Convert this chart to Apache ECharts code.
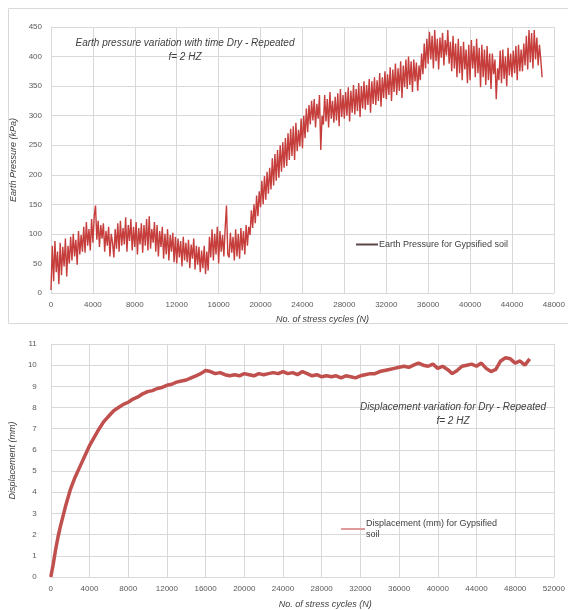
<!DOCTYPE html>
<html>
<head>
<meta charset="utf-8">
<script src="https://cdn.jsdelivr.net/npm/echarts@6/dist/echarts.min.js"></script>
<style>html,body{margin:0;padding:0;background:#fff}#c{width:568px;height:610px}</style>
</head>
<body>
<div id="c"></div>
<script>
// ---- Top chart: Earth pressure (kPa) vs number of stress cycles ----
const pressureCycles = [
  0,125,250,375,500,625,750,875, 1000,1125,1250,1375,1500,1625,1750,1875,
  2000,2125,2250,2375,2500,2625,2750,2875, 3000,3125,3250,3375,3500,3625,3750,3875,
  4000,4125,4250,4375,4500,4625,4750,4875, 5000,5125,5250,5375,5500,5625,5750,5875,
  6000,6125,6250,6375,6500,6625,6750,6875, 7000,7125,7250,7375,7500,7625,7750,7875,
  8000,8125,8250,8375,8500,8625,8750,8875, 9000,9125,9250,9375,9500,9625,9750,9875,
  10000,10125,10250,10375,10500,10625,10750,10875, 11000,11125,11250,11375,11500,11625,11750,11875,
  12000,12125,12250,12375,12500,12625,12750,12875, 13000,13125,13250,13375,13500,13625,13750,13875,
  14000,14125,14250,14375,14500,14625,14750,14875, 15000,15125,15250,15375,15500,15625,15750,15875,
  16000,16125,16250,16375,16500,16625,16750,16875, 17000,17125,17250,17375,17500,17625,17750,17875,
  18000,18125,18250,18375,18500,18625,18750,18875, 19000,19125,19250,19375,19500,19625,19750,19875,
  20000,20125,20250,20375,20500,20625,20750,20875, 21000,21125,21250,21375,21500,21625,21750,21875,
  22000,22125,22250,22375,22500,22625,22750,22875, 23000,23125,23250,23375,23500,23625,23750,23875,
  24000,24125,24250,24375,24500,24625,24750,24875, 25000,25125,25250,25375,25500,25625,25750,25875,
  26000,26125,26250,26375,26500,26625,26750,26875, 27000,27125,27250,27375,27500,27625,27750,27875,
  28000,28125,28250,28375,28500,28625,28750,28875, 29000,29125,29250,29375,29500,29625,29750,29875,
  30000,30125,30250,30375,30500,30625,30750,30875, 31000,31125,31250,31375,31500,31625,31750,31875,
  32000,32125,32250,32375,32500,32625,32750,32875, 33000,33125,33250,33375,33500,33625,33750,33875,
  34000,34125,34250,34375,34500,34625,34750,34875, 35000,35125,35250,35375,35500,35625,35750,35875,
  36000,36125,36250,36375,36500,36625,36750,36875, 37000,37125,37250,37375,37500,37625,37750,37875,
  38000,38125,38250,38375,38500,38625,38750,38875, 39000,39125,39250,39375,39500,39625,39750,39875,
  40000,40125,40250,40375,40500,40625,40750,40875, 41000,41125,41250,41375,41500,41625,41750,41875,
  42000,42125,42250,42375,42500,42625,42750,42875, 43000,43125,43250,43375,43500,43625,43750,43875,
  44000,44125,44250,44375,44500,44625,44750,44875, 45000,45125,45250,45375,45500,45625,45750,45875,
  46000,46125,46250,46375,46500,46625,46750,46875
];
const pressureKPa = [
  5,80,20,88,35,70,15,85, 30,78,45,92,28,80,50,95,
  55,100,62,90,48,105,65,98, 70,112,68,120,80,108,72,125,
  85,130,148,90,122,78,115,92, 118,70,105,80,112,62,100,85,
  60,108,75,118,70,122,80,110, 82,128,70,115,88,125,72,112,
  78,120,65,110,82,118,68,115, 80,125,72,130,75,108,85,120,
  70,115,62,105,78,112,58,100, 65,108,55,98,70,102,52,95,
  50,92,60,88,45,95,55,85, 52,90,42,82,58,92,40,80,
  48,78,35,72,42,80,32,70, 38,95,60,108,55,100,65,112,
  50,105,70,98,62,110,148,65, 60,102,68,95,55,108,62,100,
  58,110,72,105,65,115,80,112, 98,140,110,150,118,165,130,172,
  145,190,150,198,158,205,168,212, 175,228,182,235,190,242,195,250,
  205,255,212,262,215,270,225,278, 232,282,225,288,240,276,248,295,
  245,300,262,312,272,318,285,325, 292,328,280,320,295,335,242,300,
  285,335,290,328,280,340,295,325, 288,332,292,338,282,345,298,335,
  295,340,300,348,290,342,305,352, 302,345,308,355,298,350,312,358,
  310,352,318,362,305,358,320,365, 318,360,325,372,315,365,330,375,
  328,370,335,382,325,378,340,388, 335,380,342,392,330,385,348,395,
  345,400,352,392,340,395,358,390, 342,385,360,405,370,422,380,430,
  388,442,395,435,380,445,392,430, 378,432,398,440,385,428,402,445,
  388,425,375,435,380,422,365,430, 372,418,360,425,378,412,355,420,
  360,428,380,418,365,430,372,415, 348,420,365,412,352,418,360,405,
  345,405,370,395,328,380,360,410, 355,412,362,400,350,415,368,405,
  365,410,372,418,360,420,375,412, 375,422,385,435,378,445,390,440,
  380,445,395,432,385,420,395,365
];
const pressureXTicks = {min: 0, max: 48000, step: 4000};
const pressureYTicks = {min: 0, max: 450, step: 50};

// ---- Bottom chart: Displacement (mm) vs number of stress cycles ----
const dispCycles = [
  0,250,500,750,1000,1500,2000,2500,3000,3500,4000,4500,5000,5500,6000,6500,7000,7500,
  8000,8500,9000,9500,10000,10500,11000,11500,12000,12500,13000,13500,14000,14500,15000,15500,
  16000,16500,17000,17500,18000,18500,19000,19500,20000,20500,21000,21500,22000,22500,23000,23500,
  24000,24500,25000,25500,26000,26500,27000,27500,28000,28500,29000,29500,30000,30500,31000,31500,
  32000,32500,33000,33500,34000,34500,35000,35500,36000,36500,37000,37500,38000,38500,39000,39500,
  40000,40500,41000,41500,42000,42500,43000,43500,44000,44500,45000,45500,46000,46500,47000,47500,
  48000,48500,49000,49500
];
const dispMM = [
  0,0.6,1.3,1.9,2.4,3.3,4.1,4.7,5.2,5.7,6.2,6.6,7.0,7.35,7.6,7.85,8.0,8.15,
  8.25,8.4,8.5,8.65,8.75,8.8,8.9,8.95,9.05,9.1,9.2,9.25,9.3,9.4,9.5,9.6,
  9.75,9.7,9.6,9.65,9.55,9.5,9.55,9.5,9.6,9.55,9.5,9.6,9.55,9.6,9.65,9.6,
  9.7,9.6,9.65,9.55,9.7,9.6,9.5,9.55,9.45,9.5,9.45,9.5,9.4,9.5,9.45,9.4,
  9.5,9.55,9.6,9.6,9.7,9.75,9.8,9.85,9.9,9.95,9.9,10.0,10.1,10.0,9.95,10.05,
  9.85,9.95,9.8,9.6,9.75,9.95,10.0,10.05,9.95,10.1,9.85,9.7,9.8,10.2,10.35,10.3,
  10.1,10.2,10.0,10.3
];
const dispXTicks = {min: 0, max: 52000, step: 4000};
const dispYTicks = {min: 0, max: 11, step: 1};

const pressurePairs = pressureCycles.map((c, i) => [c, pressureKPa[i]]);
const dispPairs = dispCycles.map((c, i) => [c, dispMM[i]]);

const FONT = 'Liberation Sans, Arial, sans-serif';
const labelStyle = {color: '#595959', fontSize: 8, fontFamily: FONT, formatter: v => String(v)};
const gridLine = {show: true, lineStyle: {color: '#d9d9d9', width: 1}};
const nameStyle = {color: '#404040', fontSize: 9, fontStyle: 'italic', fontFamily: FONT};

const chart = echarts.init(document.getElementById('c'), null, {renderer: 'canvas'});
chart.setOption({
  animation: false,
  backgroundColor: '#ffffff',
  graphic: [{
    type: 'rect', shape: {x: 8.5, y: 8.5, width: 575, height: 315},
    style: {fill: 'none', stroke: '#d9d9d9', lineWidth: 1}, silent: true, z: -10
  }],
  title: [
    {text: 'Earth pressure variation with time Dry - Repeated\nf= 2 HZ', left: 180, top: 31, textAlign: 'center',
     textStyle: {color: '#404040', fontSize: 10, fontStyle: 'italic', fontWeight: 'normal', fontFamily: FONT, lineHeight: 14}},
    {text: 'Displacement variation for Dry - Repeated\nf= 2 HZ', left: 448, top: 395, textAlign: 'center',
     textStyle: {color: '#404040', fontSize: 10, fontStyle: 'italic', fontWeight: 'normal', fontFamily: FONT, lineHeight: 14}}
  ],
  legend: [
    {left: 351, top: 235, itemWidth: 22, itemHeight: 2, itemGap: 0, icon: 'rect',
     data: [{name: 'Earth Pressure for Gypsified soil', itemStyle: {color: '#5a4646'}}],
     textStyle: {color: '#404040', fontSize: 9, fontFamily: FONT, padding: [0, 0, 0, -4]}},
    {left: 336, top: 513, itemWidth: 24, itemHeight: 2, icon: 'rect',
     data: [{name: 'Displacement (mm) for Gypsified soil', itemStyle: {color: '#e09a9a'}}],
     formatter: () => 'Displacement (mm) for Gypsified\nsoil',
     textStyle: {color: '#404040', fontSize: 9, fontFamily: FONT, lineHeight: 11, padding: [0, 0, 0, -4]}}
  ],
  grid: [
    {left: 51, top: 27, width: 507, height: 266},
    {left: 47, top: 344, width: 508, height: 235}
  ],
  xAxis: [
    {type: 'value', gridIndex: 0, min: pressureXTicks.min, max: pressureXTicks.max, interval: pressureXTicks.step,
     name: 'No. of stress cycles (N)', nameLocation: 'middle', nameGap: 22, nameTextStyle: Object.assign({padding: [0, 0, 0, 40]}, nameStyle),
     axisLine: {lineStyle: {color: '#d9d9d9'}}, axisTick: {show: false},
     axisLabel: Object.assign({margin: 8}, labelStyle), splitLine: gridLine},
    {type: 'value', gridIndex: 1, min: dispXTicks.min, max: dispXTicks.max, interval: dispXTicks.step,
     name: 'No. of stress cycles (N)', nameLocation: 'middle', nameGap: 23, nameTextStyle: Object.assign({padding: [0, 0, 0, 46]}, nameStyle),
     axisLine: {lineStyle: {color: '#d9d9d9'}}, axisTick: {show: false},
     axisLabel: Object.assign({margin: 8}, labelStyle), splitLine: gridLine}
  ],
  yAxis: [
    {type: 'value', gridIndex: 0, min: pressureYTicks.min, max: pressureYTicks.max, interval: pressureYTicks.step,
     name: 'Earth Pressure (kPa)', nameLocation: 'middle', nameGap: 33, nameTextStyle: nameStyle,
     axisLine: {show: true, lineStyle: {color: '#d9d9d9'}}, axisTick: {show: false},
     axisLabel: Object.assign({margin: 9}, labelStyle), splitLine: gridLine},
    {type: 'value', gridIndex: 1, min: dispYTicks.min, max: dispYTicks.max, interval: dispYTicks.step,
     name: 'Displacement (mm)', nameLocation: 'middle', nameGap: 29, nameTextStyle: nameStyle,
     axisLine: {show: true, lineStyle: {color: '#d9d9d9'}}, axisTick: {show: false},
     axisLabel: Object.assign({margin: 14}, labelStyle), splitLine: gridLine}
  ],
  series: [
    {name: 'Earth Pressure for Gypsified soil', type: 'line', xAxisIndex: 0, yAxisIndex: 0,
     data: pressurePairs, showSymbol: false, symbol: 'none',
     lineStyle: {color: '#c63e3c', width: 1.4}, itemStyle: {color: '#c63e3c'}},
    {name: 'Displacement (mm) for Gypsified soil', type: 'line', xAxisIndex: 1, yAxisIndex: 1,
     data: dispPairs, showSymbol: false, symbol: 'none',
     lineStyle: {color: '#c0504d', width: 3.5}, itemStyle: {color: '#c0504d'}}
  ]
});
</script>
</body>
</html>
